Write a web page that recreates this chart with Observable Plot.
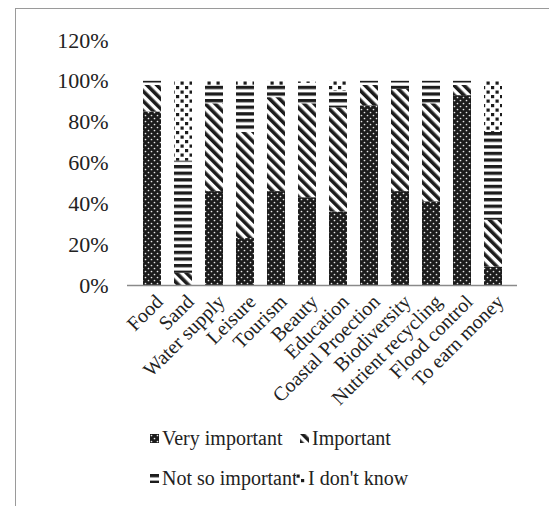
<!DOCTYPE html>
<html>
<head>
<meta charset="utf-8">
<script src="https://cdn.jsdelivr.net/npm/d3@7"></script>
<script src="https://cdn.jsdelivr.net/npm/@observablehq/plot@0.6"></script>
<style>
  html, body { margin: 0; padding: 0; background: #fff; }
  body { width: 549px; height: 506px; position: relative; overflow: hidden; font-family: "Liberation Serif", "Times New Roman", serif; color: #222; }
  #frame { position: absolute; left: 15px; top: 8px; width: 700px; height: 700px; border: 1px solid #9a9a9a; box-sizing: border-box; }
  #chart { position: absolute; left: 0; top: 0; }
  .leg { position: absolute; font-size: 20px; line-height: 20px; white-space: nowrap; display: flex; align-items: center; }
  .leg svg { margin-right: 3px; }
</style>
</head>
<body>
<div id="frame"></div>
<div id="chart"></div>
<script>
const categories = ["Food", "Sand", "Water supply", "Leisure", "Tourism", "Beauty", "Education", "Coastal Proection", "Biodiversity", "Nutrient recycling", "Flood control", "To earn money"];
const seriesNames = ["Very important", "Important", "Not so important", "I don't know"];
const veryImportant  = [85, 0, 46, 23, 46, 43, 36, 88, 46, 41, 93, 9];
const important      = [13, 6, 43, 52, 46, 46, 51, 10, 50, 48, 5, 23];
const notSoImportant = [2, 55, 9, 23, 6, 10, 8, 2, 4, 11, 2, 43];
const dontKnow       = [0, 39, 2, 2, 2, 1, 5, 0, 0, 0, 0, 25];
const yTicks = [0, 20, 40, 60, 80, 100, 120];

const seriesValues = [veryImportant, important, notSoImportant, dontKnow];
const patternIds = ["pVery", "pImp", "pNot", "pDk"];

const data = [];
categories.forEach((c, i) => {
  seriesNames.forEach((s, j) => {
    data.push({category: c, series: s, value: seriesValues[j][i]});
  });
});

const chart = Plot.plot({
  width: 549,
  height: 420,
  marginLeft: 127,
  marginRight: 32,
  marginTop: 40,
  marginBottom: 135,
  style: {fontFamily: "'Liberation Serif', 'Times New Roman', serif", color: "#222", background: "transparent"},
  x: {domain: categories, padding: 0.42, label: null},
  y: {domain: [0, 120], label: null},
  color: {domain: seriesNames, range: patternIds.map(id => `url(#${id})`)},
  marks: [
    Plot.barY(data, Plot.stackY({x: "category", y: "value", fill: "series"})),
    Plot.ruleY([0], {stroke: "#8a8a8a", strokeWidth: 1.5}),
    Plot.axisY({ticks: yTicks, tickFormat: d => d + "%", tickSize: 0, tickPadding: 19, fontSize: 22, anchor: "left"}),
    Plot.axisX({tickSize: 0, tickPadding: 10, tickRotate: -45, fontSize: 20, dx: 7, dy: 3})
  ]
});

function addDefs(svgSel) {
  const defs = svgSel.insert("defs", ":first-child");
  const p1 = defs.append("pattern").attr("id", "pVery").attr("patternUnits", "userSpaceOnUse").attr("width", 6).attr("height", 6);
  p1.append("rect").attr("width", 6).attr("height", 6).attr("fill", "#1c1c1c");
  p1.append("circle").attr("cx", 1.5).attr("cy", 1.5).attr("r", 0.85).attr("fill", "#e8e8e8");
  p1.append("circle").attr("cx", 4.5).attr("cy", 4.5).attr("r", 0.85).attr("fill", "#e8e8e8");
  const p2 = defs.append("pattern").attr("id", "pImp").attr("patternUnits", "userSpaceOnUse").attr("width", 7).attr("height", 7).attr("patternTransform", "rotate(-45)");
  p2.append("rect").attr("width", 7).attr("height", 7).attr("fill", "#fff");
  p2.append("rect").attr("width", 3.6).attr("height", 7).attr("fill", "#1c1c1c");
  const p3 = defs.append("pattern").attr("id", "pNot").attr("patternUnits", "userSpaceOnUse").attr("width", 6.5).attr("height", 6.6);
  p3.append("rect").attr("width", 6.5).attr("height", 6.6).attr("fill", "#fff");
  p3.append("rect").attr("y", 0).attr("width", 6.5).attr("height", 3.3).attr("fill", "#1c1c1c");
  const p4 = defs.append("pattern").attr("id", "pDk").attr("patternUnits", "userSpaceOnUse").attr("width", 9).attr("height", 9);
  p4.append("rect").attr("width", 9).attr("height", 9).attr("fill", "#fff");
  p4.append("rect").attr("x", 0.5).attr("y", 0.5).attr("width", 3.2).attr("height", 3.2).attr("fill", "#1c1c1c");
  p4.append("rect").attr("x", 5).attr("y", 5).attr("width", 3.2).attr("height", 3.2).attr("fill", "#1c1c1c");
}
addDefs(d3.select(chart));
document.getElementById("chart").appendChild(chart);

const legendPos = [
  {left: 150, top: 428},
  {left: 300, top: 428},
  {left: 150, top: 468},
  {left: 296, top: 468}
];
seriesNames.forEach((s, j) => {
  const div = document.createElement("div");
  div.className = "leg";
  div.style.left = legendPos[j].left + "px";
  div.style.top = legendPos[j].top + "px";
  const sw = d3.create("svg").attr("width", 9).attr("height", 9);
  sw.append("rect").attr("width", 9).attr("height", 9).attr("fill", `url(#${patternIds[j]})`);
  div.appendChild(sw.node());
  const span = document.createElement("span");
  span.textContent = s;
  div.appendChild(span);
  document.body.appendChild(div);
});
</script>
</body>
</html>
